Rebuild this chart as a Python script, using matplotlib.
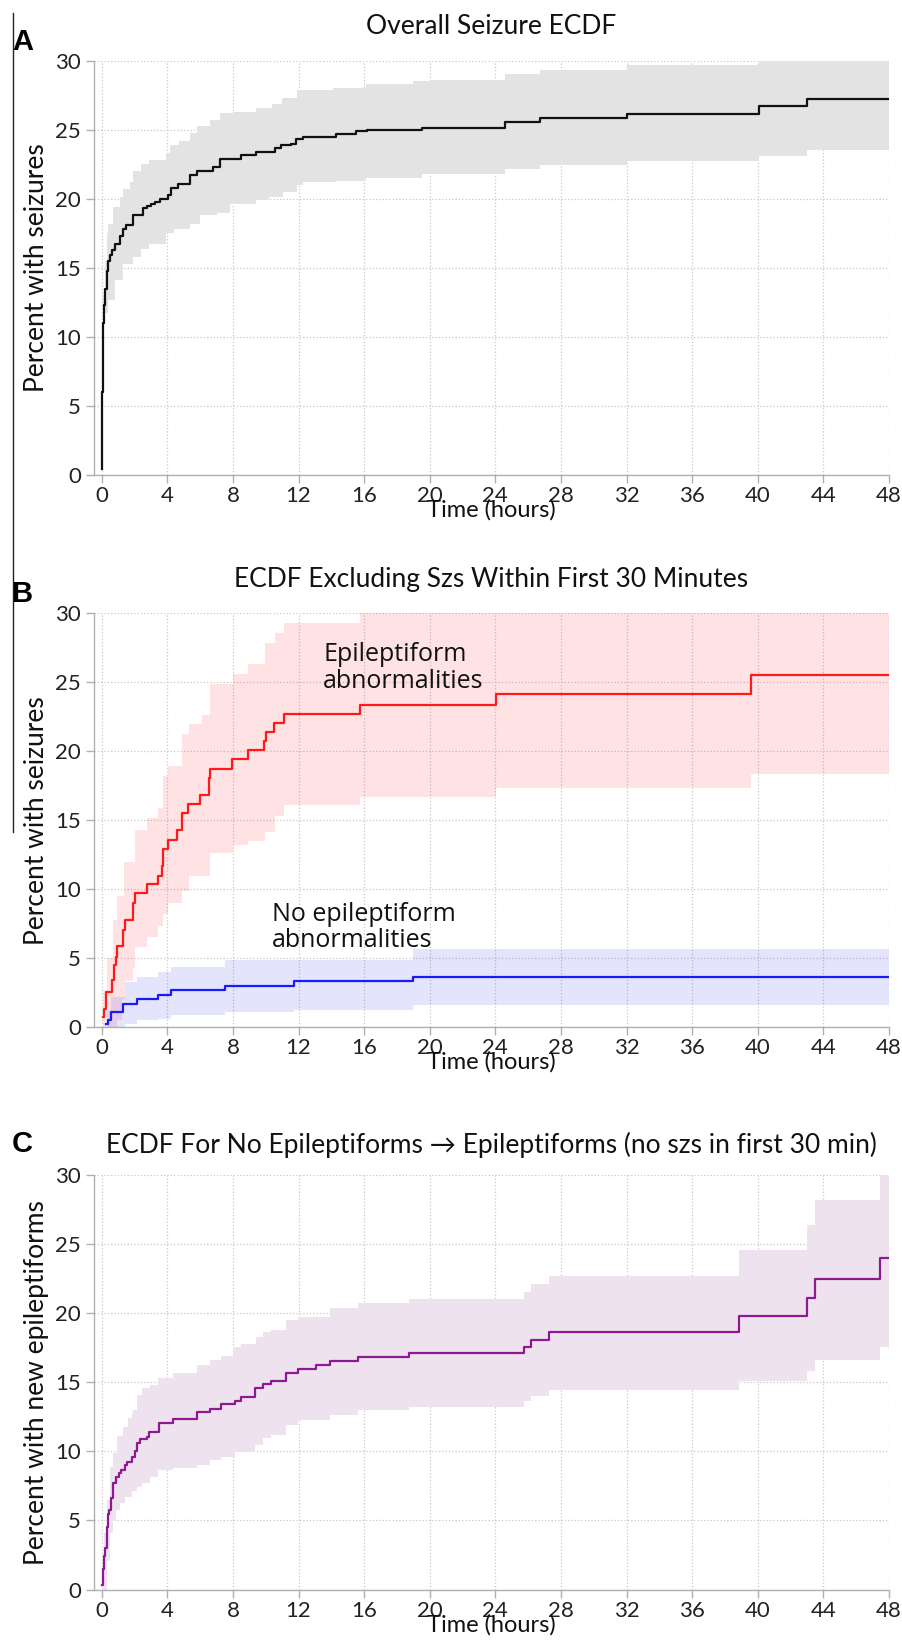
import numpy as np
import matplotlib
matplotlib.use("Agg")
import matplotlib.pyplot as plt
from matplotlib.lines import Line2D

plt.rcParams['font.family'] = ['Lato', 'DejaVu Sans']

# ---- Panel A: overall ECDF ----
a_t = [0.0, 0.02, 0.04, 0.06, 0.1, 0.15, 0.2, 0.3, 0.4, 0.5, 0.6, 0.8, 1.1, 1.3, 1.5,
       1.9, 2.5, 2.75, 3.0, 3.25, 3.55, 4.05, 4.25, 4.65, 5.4, 5.8, 6.8, 7.2, 8.5, 9.4,
       10.55, 10.95, 11.55, 11.85, 12.3, 14.3, 15.5, 16.2, 19.5, 24.6, 26.75, 32.05,
       40.1, 43.0, 48.0]
a_v = [0.4, 3.0, 6.0, 9.0, 11.0, 12.3, 13.5, 14.8, 15.5, 15.9, 16.3, 16.7, 17.3, 17.8, 18.1,
       18.8, 19.3, 19.5, 19.6, 19.8, 20.0, 20.3, 20.8, 21.1, 21.7, 22.0, 22.3, 22.9, 23.2, 23.4,
       23.7, 23.9, 24.0, 24.3, 24.5, 24.7, 24.9, 25.0, 25.15, 25.57, 25.83, 26.17,
       26.7, 27.26, 27.26]
a_hi_t = [0.1, 0.2, 0.3, 0.4, 0.7, 1.1, 1.3, 1.7, 1.9, 2.4, 2.9, 3.95, 4.15, 4.7, 5.4, 5.8,
          6.6, 7.2, 8.0, 9.4, 10.4, 11.0, 11.9, 14.1, 16.1, 19.0, 20.0, 24.6, 26.75, 32.05,
          40.1, 48.0]
a_hi_v = [13.0, 15.5, 17.5, 18.2, 19.4, 20.1, 20.7, 21.2, 22.0, 22.5, 22.8, 23.3, 23.9, 24.2,
          24.8, 25.3, 25.7, 26.2, 26.3, 26.6, 26.9, 27.3, 27.9, 28.05, 28.3, 28.5, 28.58,
          29.07, 29.3, 29.7, 30.0, 30.0]
a_lo_t = [0.1, 0.2, 0.4, 0.8, 1.3, 1.9, 2.4, 2.9, 3.95, 4.4, 5.4, 6.0, 7.0, 7.8, 9.4, 10.2,
          11.05, 11.9, 12.3, 14.3, 16.1, 19.5, 24.6, 26.75, 32.05, 40.1, 43.0, 48.0]
a_lo_v = [11.0, 11.7, 12.65, 14.1, 15.3, 15.8, 16.4, 16.75, 17.5, 17.8, 18.2, 18.8, 19.0,
          19.6, 19.9, 20.1, 20.5, 21.0, 21.2, 21.3, 21.5, 21.8, 22.14, 22.43, 22.71, 23.1,
          23.5, 23.5]

# ---- Panel B: excluding first 30 min ----
epi_t = [0.1, 0.15, 0.26, 0.61, 0.77, 0.85, 0.91, 1.28, 1.42, 1.93, 2.03, 2.74, 3.45, 3.65,
         3.75, 4.06, 4.6, 4.87, 5.27, 5.98, 6.53, 6.63, 7.97, 8.92, 9.88, 10.04, 10.5, 11.1,
         15.72, 24.05, 39.6, 48.0]
epi_v = [0.73, 1.33, 2.54, 3.39, 4.48, 5.04, 5.84, 7.05, 7.77, 8.96, 9.71, 10.39, 10.97, 11.65,
         12.9, 13.58, 14.3, 15.52, 16.17, 16.85, 18.06, 18.74, 19.44, 20.07, 20.73, 21.38,
         22.06, 22.69, 23.37, 24.16, 25.49, 25.49]
epi_hi_t = [0.1, 0.3, 0.71, 0.95, 1.36, 2.03, 2.74, 3.45, 3.76, 4.06, 4.87, 5.34, 6.09, 6.6,
            7.98, 8.93, 9.95, 10.56, 11.1, 15.77, 48.0]
epi_hi_v = [2.7, 4.98, 7.77, 9.48, 11.93, 14.29, 15.13, 15.88, 18.18, 18.93, 21.24, 21.94,
            22.63, 24.86, 25.61, 26.33, 27.83, 28.55, 29.3, 30.0, 30.0]
epi_lo_t = [0.1, 0.95, 1.26, 1.42, 1.93, 2.03, 2.74, 3.45, 3.76, 4.06, 4.87, 5.34, 6.6, 7.98,
            8.93, 9.95, 10.56, 11.1, 15.77, 24.05, 39.6, 48.0]
epi_lo_v = [0.0, 0.5, 2.0, 3.3, 4.3, 5.82, 6.51, 7.35, 8.18, 9.01, 9.85, 10.96, 12.63, 13.18,
            13.46, 14.16, 15.27, 16.1, 16.66, 17.36, 18.32, 18.32]

noepi_t = [0.26, 0.37, 0.57, 1.32, 2.13, 3.41, 4.23, 7.52, 11.7, 19.0, 48.0]
noepi_v = [0.19, 0.48, 1.09, 1.69, 2.06, 2.3, 2.66, 2.95, 3.3, 3.65, 3.65]
noepi_hi_t = [0.3, 0.57, 1.42, 2.13, 3.41, 4.23, 7.52, 19.0, 48.0]
noepi_hi_v = [1.2, 2.18, 3.27, 3.63, 4.0, 4.36, 4.84, 5.68, 5.68]
noepi_lo_t = [0.3, 1.42, 2.13, 3.41, 4.23, 7.52, 11.7, 19.0, 48.0]
noepi_lo_v = [0.0, 0.24, 0.48, 0.6, 0.85, 1.09, 1.23, 1.6, 1.6]

# ---- Panel C: no epileptiforms -> epileptiforms ----
c_t = [0.04, 0.1, 0.14, 0.2, 0.3, 0.4, 0.45, 0.55, 0.71, 0.87, 1.06, 1.2, 1.42, 1.56, 1.83,
       2.03, 2.13, 2.34, 2.74, 2.89, 3.5, 4.36, 5.82, 6.6, 7.3, 8.1, 8.5, 9.33, 9.84, 10.34,
       11.26, 11.97, 13.08, 13.9, 15.62, 18.76, 25.72, 26.2, 27.27, 38.88, 42.98, 43.48,
       47.46, 48.0]
c_v = [0.33, 1.5, 2.4, 3.0, 4.55, 5.5, 5.76, 6.6, 7.7, 8.18, 8.47, 8.66, 9.05, 9.26, 9.6,
       10.0, 10.6, 10.9, 11.07, 11.4, 12.04, 12.33, 12.84, 13.1, 13.44, 13.68, 13.97, 14.57,
       14.86, 15.13, 15.66, 15.98, 16.27, 16.58, 16.82, 17.15, 17.6, 18.08, 18.63, 19.82,
       21.09, 22.46, 24.04, 24.04]
c_hi_t = [0.04, 0.14, 0.3, 0.5, 0.71, 0.91, 1.3, 1.63, 1.83, 1.93, 2.13, 2.43, 2.94, 3.45,
          4.36, 5.78, 6.6, 7.3, 8.0, 8.5, 9.43, 9.84, 10.34, 11.26, 11.97, 13.9, 15.62, 18.76,
          25.72, 26.2, 27.27, 38.88, 42.98, 43.48, 47.46, 48.0]
c_hi_v = [1.6, 4.1, 6.5, 8.9, 9.9, 11.1, 11.8, 12.4, 12.76, 13.0, 14.1, 14.58, 14.8, 15.3,
          15.66, 16.27, 16.63, 16.92, 17.55, 17.79, 18.32, 18.68, 18.8, 19.53, 19.77, 20.37,
          20.74, 21.04, 21.56, 22.14, 22.72, 24.57, 26.41, 28.2, 30.0, 30.0]
c_lo_t = [0.14, 0.3, 0.5, 0.71, 0.87, 1.1, 1.42, 1.83, 2.13, 2.43, 2.94, 3.45, 4.36, 5.78,
          6.6, 7.3, 8.1, 9.33, 9.84, 10.34, 11.26, 11.97, 13.9, 15.62, 18.76, 25.72, 26.2,
          27.27, 38.88, 42.98, 43.48, 47.46, 48.0]
c_lo_v = [0.0, 2.1, 4.07, 5.0, 5.76, 6.24, 6.7, 7.1, 7.45, 7.7, 8.17, 8.66, 8.78, 9.0, 9.38,
          9.62, 9.98, 10.47, 10.95, 11.2, 11.9, 12.28, 12.64, 13.0, 13.25, 13.65, 14.02, 14.43,
          15.07, 15.81, 16.6, 17.57, 17.57]

x_ticks = list(range(0, 49, 4))
y_ticks = [0, 5, 10, 15, 20, 25, 30]


def step_at(kt, kv, grid):
    idx = np.searchsorted(kt, grid, side='right') - 1
    return np.asarray(kv)[np.clip(idx, 0, None)]


def band(ax, hi_t, hi_v, lo_t, lo_v, color):
    grid = np.union1d(hi_t, lo_t)
    ax.fill_between(grid, step_at(lo_t, lo_v, grid), step_at(hi_t, hi_v, grid),
                    step='post', color=color, lw=0, zorder=1)


def style(ax, title, ylabel, title_pad):
    ax.set_xlim(-0.47, 48)
    ax.set_ylim(0, 30)
    ax.set_xticks(x_ticks)
    ax.set_yticks(y_ticks)
    ax.grid(True, color='#c8c8c8', linestyle=':', linewidth=0.9, zorder=0)
    ax.set_axisbelow(True)
    for s in ['top', 'right']:
        ax.spines[s].set_visible(False)
    for s in ['left', 'bottom']:
        ax.spines[s].set_color('#b0b0b0')
        ax.spines[s].set_linewidth(1.0)
    ax.tick_params(axis='both', colors='#b0b0b0', labelcolor='#222222', labelsize=16,
                   length=6, width=1.0)
    ax.tick_params(axis='x', pad=2)
    ax.set_title(title, fontsize=19, pad=title_pad, color='#111111')
    ax.set_ylabel(ylabel, fontsize=19, labelpad=4, color='#111111')
    ax.set_xlabel('Time (hours)', fontsize=17, labelpad=-5, color='#111111')


fig = plt.figure(figsize=(9.02, 16.51), dpi=100)
W, H = 902.0, 1651.0
left = 94 / W
width = (889 - 94) / W

axA = fig.add_axes([left, 1 - 475 / H, width, 414.3 / H])
axB = fig.add_axes([left, 1 - 1027 / H, width, 413.7 / H])
axC = fig.add_axes([left, 1 - 1589.5 / H, width, 414.1 / H])

# A
band(axA, a_hi_t, a_hi_v, a_lo_t, a_lo_v, '#e3e3e3')
axA.step(a_t, a_v, where='post', color='#111111', lw=1.6, zorder=3)
style(axA, 'Overall Seizure ECDF', 'Percent with seizures', 19)

# B
band(axB, epi_hi_t, epi_hi_v, epi_lo_t, epi_lo_v, (1.0, 0.2, 0.25, 0.14))
band(axB, noepi_hi_t, noepi_hi_v, noepi_lo_t, noepi_lo_v, (0.25, 0.25, 0.95, 0.14))
axB.step(epi_t, epi_v, where='post', color='#ff1a1a', lw=1.6, zorder=3)
axB.step(noepi_t, noepi_v, where='post', color='#1a1aff', lw=1.6, zorder=3)
style(axB, 'ECDF Excluding Szs Within First 30 Minutes', 'Percent with seizures', 19)
axB.text(13.5, 27.9, 'Epileptiform\nabnormalities', fontsize=18, family='Open Sans',
         va='top', ha='left', linespacing=1.1, color='#111111')
axB.text(10.4, 9.1, 'No epileptiform\nabnormalities', fontsize=18, family='Open Sans',
         va='top', ha='left', linespacing=1.1, color='#111111')

# C
band(axC, c_hi_t, c_hi_v, c_lo_t, c_lo_v, '#efe2ef')
axC.step(c_t, c_v, where='post', color='#8e1a93', lw=1.6, zorder=3)
style(axC, 'ECDF For No Epileptiforms \u2192 Epileptiforms (no szs in first 30 min)',
      'Percent with new epileptiforms', 16)

# panel letters
for lab, ypx in [('A', 42), ('B', 594), ('C', 1144)]:
    fig.text(12 / W, 1 - ypx / H, lab, fontsize=21, fontweight='bold',
             family='Liberation Sans', va='center', ha='left')

# stray frame line on the left edge of the original figure
fig.add_artist(Line2D([12.7 / W, 12.7 / W], [1 - 13 / H, 1 - 832 / H],
                      color='#222222', lw=1.0))

fig.savefig('out.png', dpi=100)
